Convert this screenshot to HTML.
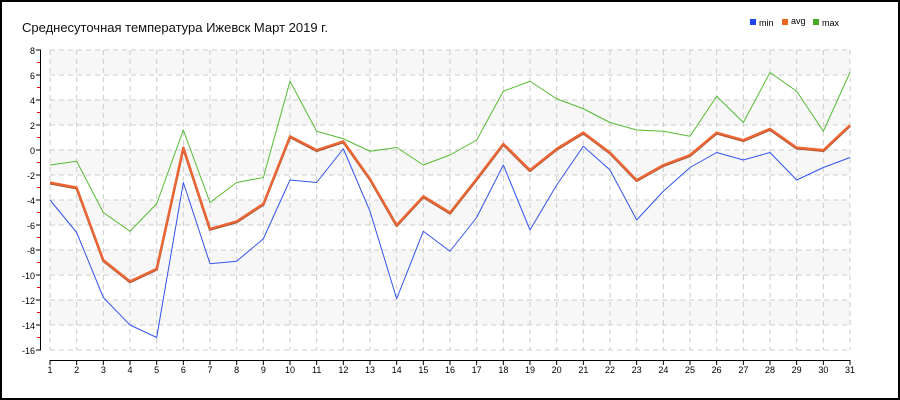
<!DOCTYPE html>
<html><head><meta charset="utf-8"><style>
html,body{margin:0;padding:0;background:#fff}
svg{display:block}
text{font-family:"Liberation Sans",sans-serif}
</style></head><body>
<svg id="s" width="900" height="400" xmlns="http://www.w3.org/2000/svg">
<rect x="1" y="1" width="898" height="398" fill="#fff" stroke="#000" stroke-width="2"/>
<text x="22" y="32" font-size="13" fill="#111">Среднесуточная температура Ижевск  Март 2019 г.</text>
<rect x="750" y="19" width="6" height="6" fill="#2244ee"/><text x="759" y="26" font-size="9">min</text>
<rect x="782" y="19" width="6" height="6" fill="#ee6622"/><text x="791" y="24" font-size="9">avg</text>
<rect x="813" y="19" width="6" height="6" fill="#44aa22"/><text x="822" y="26" font-size="9">max</text>
<g id="g"></g>
</svg>
<script>
var g=document.getElementById('g'),h='';
function X(d){return 50+(d-1)*800/30}
function Y(v){return 50+(8-v)*12.5}
for(var v=8;v>-16;v-=4){h+='<rect x="50" y="'+Y(v)+'" width="800" height="25" fill="#f7f7f7"/>';}
for(var v=8;v>=-16;v-=2){h+='<line x1="50" x2="850" y1="'+Y(v)+'" y2="'+Y(v)+'" stroke="#ccc" stroke-dasharray="5,4"/>';
h+='<line x1="36" x2="41" y1="'+Y(v)+'" y2="'+Y(v)+'" stroke="#000"/>';
if(v>-16)h+='<line x1="37" x2="40" y1="'+Y(v-1)+'" y2="'+Y(v-1)+'" stroke="#e00"/>';
h+='<text x="35" y="'+(Y(v)+4)+'" font-size="9" text-anchor="end">'+v+'</text>';}
for(var d=1;d<=31;d++){h+='<line x1="'+X(d)+'" x2="'+X(d)+'" y1="50" y2="350" stroke="#ccc" stroke-dasharray="5,4"/>';
h+='<line x1="'+X(d)+'" x2="'+X(d)+'" y1="360" y2="365" stroke="#000"/>';
h+='<text x="'+X(d)+'" y="373" font-size="9" text-anchor="middle">'+d+'</text>';}
h+='<line x1="40.5" x2="40.5" y1="50" y2="350" stroke="#000"/>';
h+='<line x1="50" x2="850" y1="360.5" y2="360.5" stroke="#000"/>';
var mx=[-1.2,-0.9,-5,-6.5,-4.3,1.6,-4.2,-2.6,-2.2,5.5,1.5,0.9,-0.1,0.2,-1.2,-0.4,0.8,4.7,5.5,4.1,3.3,2.2,1.6,1.5,1.1,4.3,2.2,6.2,4.7,1.5,6.2];
var av=[-2.6,-3,-8.8,-10.5,-9.5,0.2,-6.3,-5.7,-4.3,1.1,0,0.7,-2.3,-6,-3.7,-5,-2.3,0.5,-1.6,0.1,1.4,-0.2,-2.4,-1.2,-0.4,1.4,0.8,1.7,0.2,0,2];
var mn=[-4,-6.6,-11.8,-14,-15,-2.6,-9.1,-8.9,-7.1,-2.4,-2.6,0.1,-4.9,-11.9,-6.5,-8.1,-5.4,-1.2,-6.4,-2.8,0.3,-1.6,-5.6,-3.3,-1.4,-0.2,-0.8,-0.2,-2.4,-1.4,-0.6];
function P(a,c,w,dy){return '<polyline fill="none" stroke="'+c+'" stroke-width="'+w+'" stroke-linejoin="round" points="'+a.map(function(v,i){return X(i+1)+','+(Y(v)+(dy||0))}).join(' ')+'"/>'}
h+=P(mn,'#3355ee',1)+P(mx,'#55bb33',1)+P(av,'#aa5533',2.5,0.8)+P(av,'#ee6633',2.2);
g.innerHTML=h;
</script>
</body></html>
